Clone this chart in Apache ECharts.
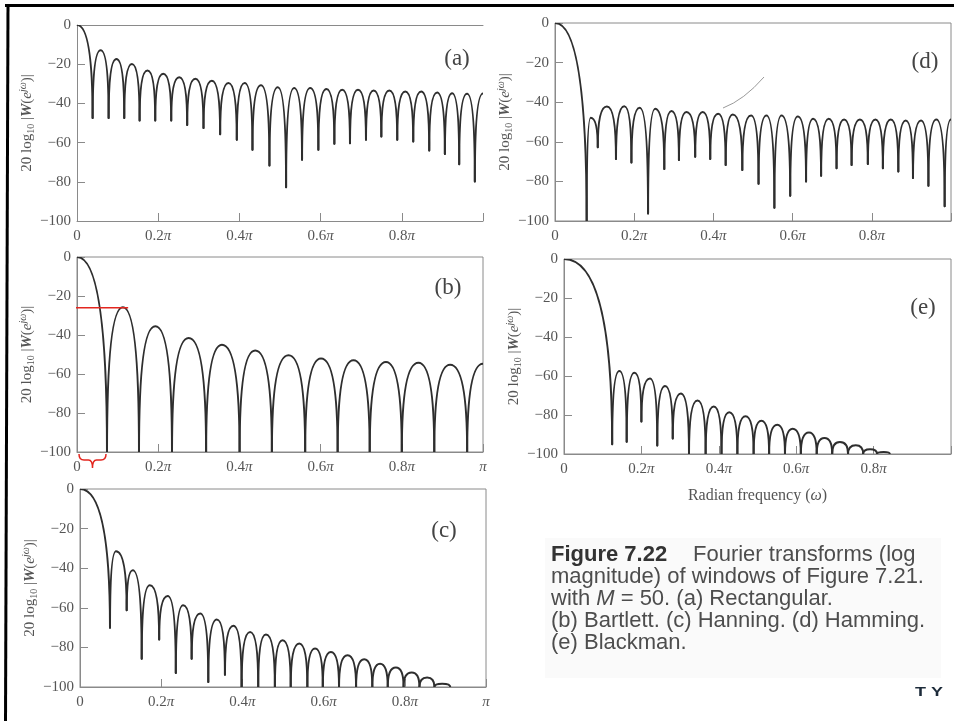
<!DOCTYPE html>
<html>
<head>
<meta charset="utf-8">
<script src="https://cdn.jsdelivr.net/npm/echarts@6/dist/echarts.min.js"></script>
<style>
  html, body { margin: 0; padding: 0; background: #fff; }
  #main { width: 954px; height: 721px; }
</style>
</head>
<body>
<div id="main"></div>
<script>
// nulls and lobe peaks, as [omega / pi, dB]
var rectNulls = [[0.0385,-47.5],[0.0779,-47.5],[0.1164,-47.5],[0.1542,-48.7],[0.1927,-48.7],[0.2321,-48.7],[0.2714,-51],[0.3116,-52.6],[0.3526,-55.7],[0.3936,-58.6],[0.4322,-63.7],[0.4740,-71.7],[0.5150,-82.8],[0.5543,-68.8],[0.5945,-63.7],[0.6339,-60.6],[0.6724,-60.3],[0.7118,-58.6],[0.7496,-56.9],[0.7888,-58.6],[0.8282,-59.5],[0.8676,-64],[0.9061,-65.8],[0.9414,-71],[0.9799,-79.9]];
var rectPeaks = [[0,0],[0.0582,-12.9],[0.0972,-17.4],[0.1353,-19.9],[0.1735,-23.2],[0.2124,-24.9],[0.2518,-26.6],[0.2915,-27.4],[0.3321,-28.4],[0.3731,-29.6],[0.4129,-29.6],[0.4531,-30.7],[0.4945,-31.7],[0.5347,-32.2],[0.5744,-32.2],[0.6142,-32.7],[0.6532,-33],[0.6921,-33],[0.7307,-33.4],[0.7692,-33.4],[0.8085,-33.9],[0.8479,-33.9],[0.8869,-34.4],[0.9238,-34.8],[0.9607,-35.1],[1.0,-35]];

var bartNulls = [[0.0739,-100],[0.1527,-100],[0.234,-100],[0.318,-100],[0.4005,-100],[0.480,-100],[0.562,-100],[0.642,-100],[0.721,-100],[0.800,-100],[0.880,-100],[0.961,-100]];
var bartPeaks = [[0,0],[0.113,-25.8],[0.193,-35.5],[0.275,-41.5],[0.357,-45],[0.439,-48],[0.521,-50.4],[0.601,-52.1],[0.681,-53],[0.761,-53.8],[0.841,-54.2],[0.919,-55.2],[1.0,-54.7]];

var hannNulls = [[0.0739,-70.1],[0.115,-61.2],[0.152,-85.7],[0.195,-76],[0.236,-92.9],[0.275,-85.7],[0.316,-97.5],[0.357,-93.8],[0.398,-100],[0.439,-100],[0.480,-100],[0.519,-100],[0.560,-100],[0.598,-100],[0.638,-100],[0.680,-100],[0.720,-100],[0.758,-100],[0.797,-100],[0.836,-100],[0.873,-100],[0.912,-100]];
var hannPeaks = [[0,0],[0.0887,-31.4],[0.130,-41],[0.172,-48.6],[0.216,-54],[0.254,-58.7],[0.296,-62.9],[0.337,-65.9],[0.378,-69.1],[0.419,-72.2],[0.458,-73.5],[0.499,-76.4],[0.540,-78],[0.579,-80.6],[0.618,-82.3],[0.659,-84],[0.700,-86],[0.739,-88.2],[0.778,-90.2],[0.817,-92.7],[0.855,-95.2],[0.892,-98.3]];

var hammNulls = [[0.080,-100],[0.108,-62.8],[0.154,-68.7],[0.193,-70.5],[0.235,-96.2],[0.276,-73.7],[0.313,-69.2],[0.354,-67.5],[0.392,-68.7],[0.431,-71.7],[0.473,-74.2],[0.514,-81.2],[0.554,-93.3],[0.594,-87.2],[0.634,-80],[0.672,-77.2],[0.711,-73.3],[0.749,-71.7],[0.790,-71.2],[0.828,-73.3],[0.867,-75],[0.904,-78.3],[0.943,-82.2],[0.984,-92.5]];
var hammPeaks = [[0,0],[0.090,-47.8],[0.131,-42.2],[0.175,-42],[0.214,-42.8],[0.253,-43.3],[0.294,-44.5],[0.332,-45],[0.373,-45],[0.412,-45.8],[0.449,-46.2],[0.495,-46.7],[0.534,-46.7],[0.572,-46.7],[0.613,-47.2],[0.652,-48.3],[0.691,-48.3],[0.730,-48.8],[0.770,-48.8],[0.809,-48.8],[0.848,-48.8],[0.886,-49.2],[0.924,-49.2],[0.963,-48.8],[1.0,-48.8]];

var blackNulls = [[0.1245,-95],[0.162,-93.7],[0.200,-83.3],[0.241,-95.7],[0.281,-92],[0.323,-100],[0.366,-100],[0.407,-100],[0.448,-100],[0.490,-100],[0.530,-100],[0.571,-100],[0.612,-100],[0.653,-100],[0.693,-100],[0.734,-100],[0.773,-100],[0.809,-100],[0.842,-100]];
var blackPeaks = [[0,0],[0.143,-57.4],[0.182,-58.3],[0.222,-61.3],[0.261,-65.1],[0.302,-69],[0.345,-72.5],[0.387,-75.7],[0.427,-78.6],[0.469,-80.7],[0.510,-83],[0.551,-85],[0.591,-87],[0.633,-89],[0.673,-91.8],[0.713,-93.8],[0.754,-95.5],[0.791,-97.5],[0.826,-99]];

// red mark on (b): first sidelobe level
var bartMark = [[-0.007,-26],[0.126,-26]];

var xTickNum = ['0', '0.2', '0.4', '0.6', '0.8', ''];
var yTickText = ['\u2212100', '\u221280', '\u221260', '\u221240', '\u221220', '0'];
var captionLines = [
    'magnitude) of windows of Figure 7.21.',
    '{r|with }{i|M}{r| = 50. (a) Rectangular.}',
    '(b) Bartlett. (c) Hanning. (d) Hamming.',
    '(e) Blackman.'
];

var serif = "'Liberation Serif', 'DejaVu Serif', serif";
var sans = "'Liberation Sans', Arial, sans-serif";
var axisColor = '#8a8a8a';
var textColor = '#555';
var curveColor = '#2e2e2e';
var red = '#e3261f';

var panels = [
    { nulls: rectNulls, peaks: rectPeaks, label: '(a)', pos: [457, 59], grid: { left: 77, top: 25, width: 406, height: 196 }, showPi: false, box: false },
    { nulls: bartNulls, peaks: bartPeaks, label: '(b)', pos: [448, 288], grid: { left: 77, top: 257, width: 406, height: 195 }, showPi: true, box: true },
    { nulls: hannNulls, peaks: hannPeaks, label: '(c)', pos: [444, 531], grid: { left: 80, top: 489, width: 406, height: 198 }, showPi: true, box: true },
    { nulls: hammNulls, peaks: hammPeaks, label: '(d)', pos: [925, 62], grid: { left: 555, top: 23, width: 404, height: 198 }, showPi: false, box: true },
    { nulls: blackNulls, peaks: blackPeaks, label: '(e)', pos: [923, 308], grid: { left: 564, top: 259, width: 391, height: 195 }, showPi: false, box: true, xName: true }
];

// one item per lobe: [left null, peak, right null]
function toLobes(nulls, peaks) {
    var out = [];
    peaks.forEach(function (pk, i) {
        var l = i === 0 ? pk : nulls[i - 1];
        var r = nulls[i] || pk;
        out.push([l[0], l[1], pk[0], pk[1], r[0], r[1]]);
    });
    return out;
}

function drawLobe(params, api) {
    var a = api.coord([api.value(0), api.value(1)]);
    var p = api.coord([api.value(2), api.value(3)]);
    var b = api.coord([api.value(4), api.value(5)]);
    var d = 'M ' + a[0] + ' ' + a[1] +
        ' Q ' + a[0] + ' ' + p[1] + ' ' + p[0] + ' ' + p[1] +
        ' Q ' + b[0] + ' ' + p[1] + ' ' + b[0] + ' ' + b[1];
    return {
        type: 'path',
        shape: { pathData: d },
        style: { fill: 'none', stroke: curveColor, lineWidth: 2, lineCap: 'round' }
    };
}

function drawBrace(params, api) {
    var l = api.coord([api.value(0), -100]);
    var r = api.coord([api.value(1), -100]);
    var x0 = l[0] + 2, x1 = r[0] - 1, y = l[1] + 2, xc = (x0 + x1) / 2;
    var d = 'M ' + x0 + ' ' + y +
        ' Q ' + x0 + ' ' + (y + 6) + ' ' + (x0 + 5) + ' ' + (y + 6) +
        ' L ' + (xc - 4) + ' ' + (y + 6) +
        ' Q ' + xc + ' ' + (y + 6) + ' ' + xc + ' ' + (y + 14) +
        ' Q ' + xc + ' ' + (y + 6) + ' ' + (xc + 4) + ' ' + (y + 6) +
        ' L ' + (x1 - 5) + ' ' + (y + 6) +
        ' Q ' + x1 + ' ' + (y + 6) + ' ' + x1 + ' ' + y;
    return { type: 'path', shape: { pathData: d }, style: { fill: 'none', stroke: red, lineWidth: 1.5 } };
}

function xLabel(showPi) {
    return function (v) {
        var i = Math.round(v / 0.2);
        if (i === 0) return '0';
        if (i === 5 && !showPi) return '';
        return (xTickNum[i] ? '{n|' + xTickNum[i] + '}' : '') + '{p|\u03c0}';
    };
}

var grids = [], xAxes = [], yAxes = [], series = [], graphics = [];

panels.forEach(function (pn, i) {
    grids.push(Object.assign({ show: pn.box, borderColor: axisColor, borderWidth: 1 }, pn.grid));
    xAxes.push({
        gridIndex: i, type: 'value', min: 0, max: 1, interval: 0.2, position: 'bottom',
        axisLine: { onZero: false, lineStyle: { color: axisColor, width: 1 } },
        axisTick: { inside: true, length: 8, lineStyle: { color: axisColor } },
        splitLine: { show: false },
        axisLabel: {
            margin: 8, color: textColor, fontFamily: serif, fontSize: 15,
            formatter: xLabel(pn.showPi),
            rich: {
                n: { fontFamily: serif, fontSize: 15, color: textColor },
                p: { fontFamily: serif, fontSize: 15, color: textColor, fontStyle: 'italic' }
            }
        },
        name: pn.xName ? '{r|Radian frequency (}{w|\u03c9}{r|)}' : '',
        nameLocation: 'middle', nameGap: 34,
        nameTextStyle: {
            color: textColor, fontFamily: serif, fontSize: 16,
            rich: {
                r: { fontFamily: serif, fontSize: 16, color: textColor },
                w: { fontFamily: serif, fontSize: 16, color: textColor, fontStyle: 'italic' }
            }
        }
    });
    yAxes.push({
        gridIndex: i, type: 'value', min: -100, max: 0, interval: 20, position: 'left',
        axisLine: { show: true, onZero: false, lineStyle: { color: axisColor, width: 1 } },
        axisTick: { show: true, inside: true, length: 8, lineStyle: { color: axisColor } },
        splitLine: { show: false },
        axisLabel: {
            margin: 6, color: textColor, fontFamily: serif, fontSize: 15,
            formatter: function (v) { return yTickText[Math.round((v + 100) / 20)]; }
        },
        name: '{t|20 log}{s|10}{t| |}{w|W}{t|(}{e|e}{u|j\u03c9}{t|)|}',
        nameLocation: 'middle', nameGap: 41,
        nameTextStyle: {
            color: textColor, fontFamily: serif, fontSize: 15,
            rich: {
                t: { fontFamily: serif, fontSize: 15, color: textColor, lineHeight: 18 },
                s: { fontFamily: serif, fontSize: 10, color: textColor, verticalAlign: 'bottom', lineHeight: 18 },
                w: { fontFamily: serif, fontSize: 15, color: textColor, fontStyle: 'italic', fontWeight: 'bold', lineHeight: 18 },
                e: { fontFamily: serif, fontSize: 15, color: textColor, fontStyle: 'italic', lineHeight: 18 },
                u: { fontFamily: serif, fontSize: 10, color: textColor, fontStyle: 'italic', verticalAlign: 'top', lineHeight: 18 }
            }
        }
    });
    series.push({
        type: 'custom', xAxisIndex: i, yAxisIndex: i, clip: true, silent: true,
        encode: { x: [0, 2, 4], y: [1, 3, 5] },
        data: toLobes(pn.nulls, pn.peaks),
        renderItem: drawLobe
    });
    graphics.push({
        type: 'text', x: pn.pos[0], y: pn.pos[1],
        style: { text: pn.label, fill: '#444', fontFamily: serif, fontSize: 23, align: 'center', verticalAlign: 'middle', textAlign: 'center', textVerticalAlign: 'middle' }
    });
});

// top frame line of (a), which has no right edge
xAxes.push({
    gridIndex: 0, type: 'value', position: 'top', min: 0, max: 1,
    axisLine: { onZero: false, lineStyle: { color: axisColor, width: 1 } },
    axisTick: { show: false }, axisLabel: { show: false }, splitLine: { show: false }
});

series.push({
    type: 'line', xAxisIndex: 1, yAxisIndex: 1, data: bartMark, symbol: 'none', clip: false, silent: true, z: 5,
    lineStyle: { color: red, width: 1.5 }
});
series.push({
    type: 'custom', xAxisIndex: 1, yAxisIndex: 1, clip: false, silent: true,
    data: [[0, bartNulls[0][0]]], renderItem: drawBrace
});

// figure frame, caption
graphics.unshift(
    { type: 'rect', shape: { x: 545, y: 538, width: 396, height: 140 }, style: { fill: '#fafafa' } },
    { type: 'line', shape: { x1: 5, y1: 5.5, x2: 954, y2: 5.5 }, style: { stroke: '#000', lineWidth: 3 } },
    { type: 'line', shape: { x1: 8, y1: 4, x2: 5.5, y2: 721 }, style: { stroke: '#000', lineWidth: 3 } },
    { type: 'bezierCurve', shape: { x1: 723, y1: 108, x2: 764, y2: 77, cpx1: 744, cpy1: 100 }, style: { fill: 'none', stroke: '#9a9a9a', lineWidth: 1 } }
);
graphics.push(
    { type: 'text', x: 551, y: 555, style: { text: 'Figure 7.22', fill: '#333', fontFamily: sans, fontSize: 22, fontWeight: 'bold', verticalAlign: 'middle', textVerticalAlign: 'middle' } },
    { type: 'text', x: 693, y: 555, style: { text: 'Fourier transforms (log', fill: '#4d4d4d', fontFamily: sans, fontSize: 22, verticalAlign: 'middle', textVerticalAlign: 'middle' } }
);
captionLines.forEach(function (t, i) {
    graphics.push({
        type: 'text', x: 551, y: 577 + i * 22,
        style: {
            text: t, fill: '#4d4d4d', fontFamily: sans, fontSize: 22, verticalAlign: 'middle', textVerticalAlign: 'middle',
            rich: {
                r: { fill: '#4d4d4d', fontFamily: sans, fontSize: 22 },
                i: { fill: '#4d4d4d', fontFamily: sans, fontSize: 22, fontStyle: 'italic' }
            }
        }
    });
});
graphics.push({
    type: 'text', x: 929, y: 693, scaleX: 1.5,
    style: { text: 'T Y', fill: '#1d2b3a', fontFamily: sans, fontSize: 12, fontWeight: 'bold', align: 'center', verticalAlign: 'middle', textAlign: 'center', textVerticalAlign: 'middle' }
});

var myChart = echarts.init(document.getElementById('main'));
var option = {
    animation: false,
    backgroundColor: '#fff',
    grid: grids,
    xAxis: xAxes,
    yAxis: yAxes,
    series: series,
    graphic: graphics
};
option && myChart.setOption(option);
</script>
</body>
</html>
